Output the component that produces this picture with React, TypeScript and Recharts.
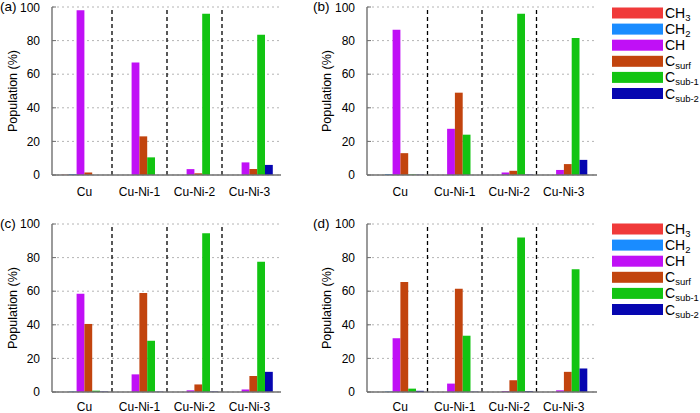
import React from 'react';
import { BarChart, Bar, XAxis, YAxis, CartesianGrid, ReferenceLine } from 'recharts';

const categories = ['Cu', 'Cu-Ni-1', 'Cu-Ni-2', 'Cu-Ni-3'];
const seriesKeys = ['CH3', 'CH2', 'CH', 'Csurf', 'Csub1', 'Csub2'];
const seriesColors = ['#f03a3a', '#1a8cff', '#c010f6', '#c2440e', '#12c412', '#0606b0'];
const legendMain = ['CH', 'CH', 'CH', 'C', 'C', 'C'];
const legendSub = ['3', '2', '', 'surf', 'sub-1', 'sub-2'];
const yTicks = [0, 20, 40, 60, 80, 100];

// rows = categories, columns = CH3, CH2, CH, Csurf, Csub-1, Csub-2
const panelA = [
  [0.2, 0.5, 98, 1.5, 0, 0],
  [0, 0, 67, 23, 10.5, 0],
  [0, 0, 3.5, 1, 96, 0],
  [0, 0, 7.5, 3.5, 83.5, 6],
];
const panelB = [
  [0, 0.5, 86.5, 13, 0.3, 0.2],
  [0, 0, 27.5, 49, 24, 0],
  [0, 0, 1.5, 2.5, 96, 0.3],
  [0, 0, 3, 6.5, 81.5, 9],
];
const panelC = [
  [0, 0.3, 58.5, 40.5, 0.8, 0.3],
  [0, 0, 10.5, 59, 30.5, 0.2],
  [0, 0, 1, 4.5, 94.5, 0.3],
  [0, 0, 1.5, 9.5, 77.5, 12],
];
const panelD = [
  [0, 0.3, 32, 65.5, 2, 0.7],
  [0, 0, 5, 61.5, 33.5, 0.2],
  [0, 0, 0.5, 7, 92, 0.5],
  [0, 0, 1, 12, 73, 14],
];

const FONT = '"Liberation Sans", Arial, sans-serif';
const frame = { stroke: '#707070', strokeWidth: 1.4 };

const toData = (rows: number[][]) =>
  categories.map((name, i) => {
    const row: Record<string, any> = { name };
    seriesKeys.forEach((k, j) => (row[k] = rows[i][j]));
    return row;
  });

interface PanelProps {
  tag: string;
  rows: number[][];
  left: number;
  top: number;
  height: number;
  plotTop: number;
  xHeight: number;
  xMargin: number;
  yWidth: number;
  rightGap: number;
  pad: { left: number; right: number };
  labelX: number;
  tagX: number;
}

const Panel = ({ tag, rows, left, top, height, plotTop, xHeight, xMargin, yWidth, rightGap, pad, labelX, tagX }: PanelProps) => {
  const data = toData(rows);
  return (
    <div style={{ position: 'absolute', left, top, width: 300, height }}>
      <BarChart
        width={300}
        height={height}
        data={data}
        margin={{ top: plotTop, right: rightGap, left: 0, bottom: 0 }}
        barGap={0}
        barSize={7.8}
      >
        <CartesianGrid xAxisId="b" yAxisId="l" vertical={false} stroke="#b4b4b4" strokeDasharray="2 3" />
        <XAxis
          xAxisId="b"
          dataKey="name"
          height={xHeight}
          padding={pad}
          interval={0}
          tickLine={false}
          tickSize={0}
          tickMargin={xMargin}
          axisLine={frame}
          tick={{ fill: '#000', fontSize: 12, fontFamily: FONT }}
        />
        <XAxis xAxisId="t" dataKey="name" orientation="top" height={0} tick={false} tickLine={false} axisLine={frame} />
        <YAxis
          yAxisId="l"
          domain={[0, 100]}
          ticks={yTicks}
          width={yWidth}
          tickSize={-4}
          tickMargin={16}
          tickLine={{ stroke: '#707070' }}
          axisLine={frame}
          tick={{ fill: '#000', fontSize: 12, fontFamily: FONT }}
          label={{
            value: 'Population (%)',
            content: (p: any) => {
              const vb = p.viewBox || { x: 0, y: 0, width: 0, height: 0 };
              const cx = vb.x + labelX;
              const cy = vb.y + vb.height / 2;
              return (
                <text
                  x={cx}
                  y={cy}
                  transform={`rotate(-90 ${cx} ${cy})`}
                  textAnchor="middle"
                  dominantBaseline="central"
                  fontSize={12.5}
                  fontFamily={FONT}
                  fill="#000"
                >
                  Population (%)
                </text>
              );
            },
          }}
        />
        <YAxis
          yAxisId="r"
          orientation="right"
          domain={[0, 100]}
          ticks={yTicks}
          width={0}
          tick={false}
          tickSize={-4}
          tickLine={{ stroke: '#707070' }}
          axisLine={frame}
        />
        {categories.slice(0, 3).map((c) => (
          <ReferenceLine
            key={c}
            xAxisId="b"
            yAxisId="l"
            x={c}
            position="end"
            stroke="#000"
            strokeWidth={1.3}
            strokeDasharray="4 3"
          />
        ))}
        {seriesKeys.map((k, j) => (
          <Bar key={k} xAxisId="b" yAxisId="l" dataKey={k} fill={seriesColors[j]} isAnimationActive={false} />
        ))}
      </BarChart>
      <div
        style={{
          position: 'absolute',
          left: tagX,
          top: plotTop - 9,
          fontSize: 13.5,
          lineHeight: '18px',
          fontFamily: FONT,
          color: '#000',
        }}
      >
        {tag}
      </div>
    </div>
  );
};

const Legend = ({ left, top }: { left: number; top: number }) => (
  <svg style={{ position: 'absolute', left, top }} width={100} height={100}>
    {seriesKeys.map((k, j) => {
      const cy = 7 + j * 16.1;
      return (
        <g key={k}>
          <rect x={12} y={cy - 5.5} width={51} height={11} fill={seriesColors[j]} />
          <text x={65} y={cy + 5} fontSize={14} fontFamily={FONT} fill="#000">
            {legendMain[j]}
            {legendSub[j] && (
              <tspan dy={3} fontSize={9.5}>
                {legendSub[j]}
              </tspan>
            )}
          </text>
        </g>
      );
    })}
  </svg>
);

export default function App() {
  return (
    <div style={{ position: 'absolute', left: 0, top: 0, width: 700, height: 413, overflow: 'hidden', background: '#fff', fontFamily: FONT }}>
      <Panel tag="(a)" rows={panelA} left={0} top={0} height={200} plotTop={7} xHeight={25} xMargin={12} yWidth={52}
        rightGap={19} pad={{ left: 5, right: 4 }} labelX={13} tagX={0} />
      <Panel tag="(b)" rows={panelB} left={300} top={0} height={200} plotTop={7} xHeight={25} xMargin={12} yWidth={67}
        rightGap={3} pad={{ left: 6, right: 6 }} labelX={27} tagX={13} />
      <Panel tag="(c)" rows={panelC} left={0} top={200} height={222} plotTop={24} xHeight={30} xMargin={10} yWidth={52}
        rightGap={19} pad={{ left: 5, right: 4 }} labelX={13} tagX={0} />
      <Panel tag="(d)" rows={panelD} left={300} top={200} height={222} plotTop={24} xHeight={30} xMargin={10} yWidth={67}
        rightGap={3} pad={{ left: 6, right: 6 }} labelX={27} tagX={13} />
      <Legend left={600} top={6} />
      <Legend left={600} top={222} />
    </div>
  );
}
